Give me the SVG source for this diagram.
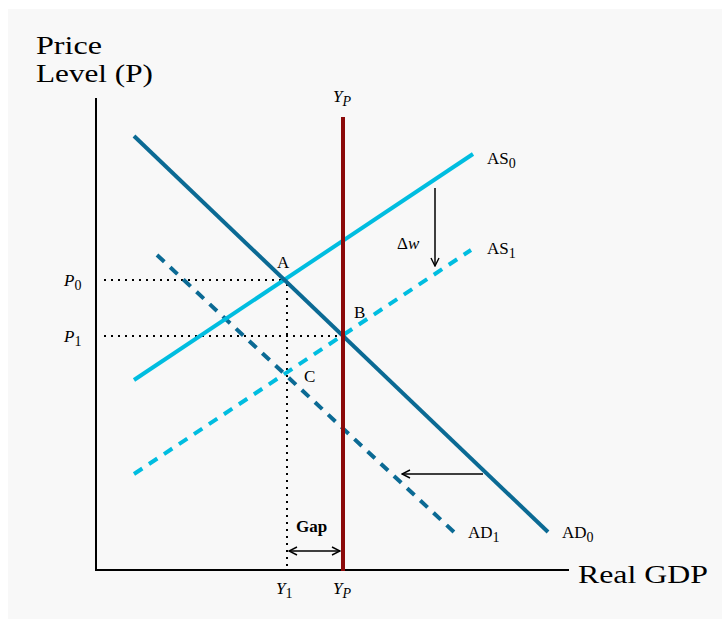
<svg xmlns="http://www.w3.org/2000/svg" width="722" height="620" viewBox="0 0 722 620" font-family="'Liberation Serif', 'DejaVu Serif', serif">
<defs>
<marker id="open" viewBox="0 0 10 10" refX="9" refY="5" markerWidth="10" markerHeight="10" markerUnits="userSpaceOnUse" orient="auto-start-reverse">
<path d="M1,1 L9,5 L1,9" fill="none" stroke="#000" stroke-width="1.4"/>
</marker>
<style>
text{font-family:'Liberation Serif','DejaVu Serif',serif;fill:#000}
.lbl{font-size:17px}
.sub{font-size:14px}
.big{font-size:26px}
.it{font-style:italic}
.ad{stroke:#0b6a94;stroke-width:4;fill:none}
.as{stroke:#00bde0;stroke-width:4;fill:none}
.dash{stroke-dasharray:10 8}
.dot{stroke:#000;stroke-width:2;stroke-dasharray:2 5;fill:none}
.ax{stroke:#000;stroke-width:2;fill:none}
.arr{stroke:#000;stroke-width:1.5;fill:none;marker-end:url(#open)}
</style>
</defs>
<rect x="8" y="9" width="714" height="610" fill="#f8f8f8"/>
<g id="axes">
<line class="ax" x1="96" y1="98" x2="96" y2="571"/>
<line class="ax" x1="95" y1="570" x2="569" y2="570"/>
<text class="big" x="36" y="54" textLength="66" lengthAdjust="spacingAndGlyphs">Price</text>
<text class="big" x="36" y="82" textLength="117" lengthAdjust="spacingAndGlyphs">Level (P)</text>
<text class="big" x="578" y="583" textLength="130" lengthAdjust="spacingAndGlyphs">Real GDP</text>
</g>
<g id="guides">
<line class="dot" x1="104" y1="280" x2="287" y2="280"/>
<line class="dot" x1="104" y1="336" x2="343" y2="336"/>
<line class="dot" x1="287" y1="284" x2="287" y2="570"/>
</g>
<g id="AS1"><line class="as dash" x1="134" y1="474" x2="471" y2="250"/><text class="lbl" x="487" y="254">AS<tspan class="sub" dy="4">1</tspan></text></g>
<g id="AD1"><line class="ad dash" x1="157" y1="255" x2="454" y2="532"/><text class="lbl" x="468" y="538">AD<tspan class="sub" dy="4">1</tspan></text></g>
<g id="AS0"><line class="as" x1="134" y1="380" x2="473" y2="154"/><text class="lbl" x="487" y="164">AS<tspan class="sub" dy="4">0</tspan></text></g>
<g id="AD0"><line class="ad" x1="134" y1="136" x2="548" y2="532"/><text class="lbl" x="562" y="538">AD<tspan class="sub" dy="4">0</tspan></text></g>
<g id="YP"><line x1="343" y1="117" x2="343" y2="571" stroke="#8b0a0a" stroke-width="4"/><text class="lbl it" x="333" y="102">Y<tspan class="sub" dy="4">P</tspan></text></g>
<g id="points">
<text class="lbl" x="277" y="268">A</text>
<text class="lbl" x="354" y="318">B</text>
<text class="lbl" x="304" y="382">C</text>
</g>
<g id="ticks">
<text class="lbl it" x="64" y="286">P<tspan class="sub" font-style="normal" dy="4">0</tspan></text>
<text class="lbl it" x="64" y="342">P<tspan class="sub" font-style="normal" dy="4">1</tspan></text>
<text class="lbl it" x="276" y="594">Y<tspan class="sub" font-style="normal" dy="4">1</tspan></text>
<text class="lbl it" x="333" y="594">Y<tspan class="sub" dy="4">P</tspan></text>
</g>
<g id="connectors">
<line class="arr" x1="435" y1="188" x2="435" y2="266"/>
<line class="arr" x1="483" y1="474" x2="402" y2="474"/>
<line class="arr" x1="289" y1="551" x2="340" y2="551" marker-start="url(#open)"/>
</g>
<g id="notes">
<text class="lbl" x="397" y="249">Δ<tspan class="it">w</tspan></text>
<text class="lbl" x="296" y="532" font-weight="bold">Gap</text>
</g>
</svg>
